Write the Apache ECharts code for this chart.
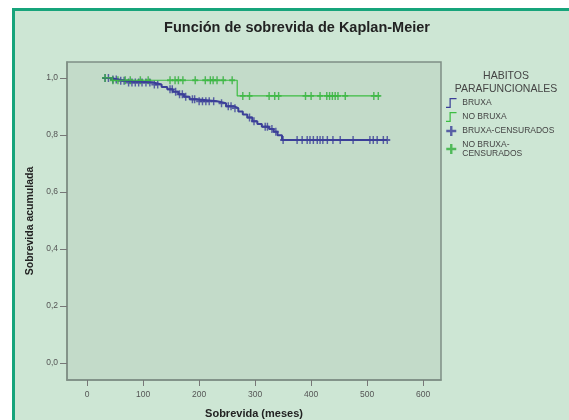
<!DOCTYPE html>
<html>
<head>
<meta charset="utf-8">
<script src="https://cdn.jsdelivr.net/npm/echarts@6/dist/echarts.min.js"></script>
<style>
  html, body { margin: 0; padding: 0; background: #fff; }
  #res { width: 569px; height: 420px; }
</style>
</head>
<body>
<div id="res"></div>
<script>
// curva de Kaplan-Meier
const bruxaTime = [29, 42, 55, 68, 118, 133, 143, 153, 163, 173, 183, 195, 232, 248, 262, 270, 278, 286, 295, 304, 312, 325, 333, 340, 348, 536];
const bruxaSurv = [1.0, 0.995, 0.99, 0.984, 0.977, 0.968, 0.96, 0.952, 0.943, 0.934, 0.925, 0.918, 0.911, 0.901, 0.894, 0.882, 0.872, 0.861, 0.848, 0.838, 0.829, 0.821, 0.811, 0.799, 0.782, 0.782];
const noBruxaTime = [29, 45, 268, 523];
const noBruxaSurv = [1.0, 0.992, 0.937, 0.937];

// censurados (tiempos)
const bruxaCensor = [32, 38, 46, 52, 60, 66, 74, 80, 86, 92, 98, 105, 112, 120, 126, 148, 152, 158, 165, 170, 176, 188, 192, 200, 206, 212, 218, 226, 240, 252, 257, 264, 290, 298, 318, 322, 330, 337, 350, 375, 384, 393, 398, 404, 411, 416, 421, 429, 439, 452, 475, 505, 511, 518, 529, 536];
const noBruxaCensor = [32, 46, 55, 68, 77, 95, 109, 148, 157, 163, 171, 193, 211, 220, 225, 232, 243, 259, 278, 290, 325, 335, 342, 390, 400, 416, 428, 433, 438, 443, 448, 461, 512, 520];

const xTicks = [0, 100, 200, 300, 400, 500, 600];
const yTicks = [0, 0.2, 0.4, 0.6, 0.8, 1.0];

function survAt(times, surv, t) {
  let s = surv[0];
  for (let i = 0; i < times.length; i++) {
    if (times[i] <= t) s = surv[i];
  }
  return s;
}

const plus = 'path://M3.8,0 L6.2,0 L6.2,3.8 L10,3.8 L10,6.2 L6.2,6.2 L6.2,10 L3.8,10 L3.8,6.2 L0,6.2 L0,3.8 L3.8,3.8 Z';
const stepIcon = 'path://M0,10 L4,10 L4,0 L12,0 L12,1.4 L5.4,1.4 L5.4,11.4 L0,11.4 Z';

let chartDom = document.getElementById('res');
let myChart = echarts.init(chartDom);
let font = '"Liberation Sans", Arial, sans-serif';

let option = {
  backgroundColor: '#ffffff',
  animation: false,
  textStyle: { fontFamily: font },
  graphic: [{
    type: 'rect',
    z: -100,
    shape: { x: 13.5, y: 9.5, width: 600, height: 500 },
    style: { fill: '#cde6d4', stroke: '#17a47b', lineWidth: 3 }
  }],
  title: [{
    text: 'Función de sobrevida de Kaplan-Meier',
    left: 297,
    textAlign: 'center',
    top: 20,
    padding: 0,
    textStyle: { fontSize: 14.5, fontWeight: 'bold', color: '#222', fontFamily: font }
  }, {
    text: 'HABITOS\nPARAFUNCIONALES',
    left: 506,
    textAlign: 'center',
    top: 70,
    padding: 0,
    textStyle: { fontSize: 10.5, fontWeight: 'normal', color: '#444', lineHeight: 13, fontFamily: font }
  }],
  legend: {
    orient: 'vertical',
    left: 446,
    top: 98,
    padding: 0,
    itemWidth: 12,
    itemHeight: 10,
    itemGap: 4,
    textStyle: { fontSize: 8.5, color: '#444', fontFamily: font, lineHeight: 9 },
    data: [
      { name: 'BRUXA', icon: stepIcon },
      { name: 'NO BRUXA', icon: stepIcon },
      { name: 'BRUXA-CENSURADOS', icon: plus },
      { name: 'NO BRUXA-\nCENSURADOS', icon: plus }
    ]
  },
  grid: {
    left: 67,
    right: 128,
    top: 62,
    bottom: 40,
    outerBoundsMode: 'none',
    containLabel: false,
    show: true,
    backgroundColor: '#c3dbc9',
    borderColor: '#7f8f85',
    borderWidth: 1.5
  },
  xAxis: {
    type: 'value',
    min: -36,
    max: 632,
    name: 'Sobrevida (meses)',
    nameLocation: 'middle',
    nameGap: 28,
    nameTextStyle: { fontSize: 11, fontWeight: 'bold', color: '#222', fontFamily: font },
    splitLine: { show: false },
    axisLine: { show: true, onZero: false, lineStyle: { color: '#7f8f85', width: 1.5 } },
    axisTick: { show: true, length: 6, customValues: xTicks, lineStyle: { color: '#777' } },
    axisLabel: { customValues: xTicks, fontSize: 8.5, color: '#555', margin: 10, fontFamily: font }
  },
  yAxis: {
    type: 'value',
    min: -0.06,
    max: 1.056,
    name: 'Sobrevida acumulada',
    nameLocation: 'middle',
    nameGap: 31,
    nameTextStyle: { fontSize: 10.5, fontWeight: 'bold', color: '#222', fontFamily: font },
    splitLine: { show: false },
    axisLine: { show: true, onZero: false, lineStyle: { color: '#7f8f85', width: 1.5 } },
    axisTick: { show: true, length: 7, customValues: yTicks, lineStyle: { color: '#777' } },
    axisLabel: {
      customValues: yTicks,
      fontSize: 8.5,
      color: '#555',
      margin: 9,
      fontFamily: font,
      formatter: v => v.toFixed(1).replace('.', ',')
    }
  },
  series: [
    {
      name: 'BRUXA',
      type: 'line',
      step: 'end',
      showSymbol: false,
      color: '#3b3f98',
      lineStyle: { width: 2, color: '#3b3f98' },
      data: bruxaTime.map((t, i) => [t, bruxaSurv[i]])
    },
    {
      name: 'BRUXA-CENSURADOS',
      type: 'scatter',
      symbol: plus,
      symbolSize: [6, 8],
      color: '#3b3f98',
      data: bruxaCensor.map(t => [t, survAt(bruxaTime, bruxaSurv, t)])
    },
    {
      name: 'NO BRUXA',
      type: 'line',
      step: 'end',
      showSymbol: false,
      color: '#3cbd42',
      lineStyle: { width: 1.2, color: '#3cbd42' },
      data: noBruxaTime.map((t, i) => [t, noBruxaSurv[i]])
    },
    {
      name: 'NO BRUXA-\nCENSURADOS',
      type: 'scatter',
      symbol: plus,
      symbolSize: [6, 8],
      color: '#2fae3a',
      data: noBruxaCensor.map(t => [t, survAt(noBruxaTime, noBruxaSurv, t)])
    }
  ]
};
option && myChart.setOption(option);
</script>
</body>
</html>
